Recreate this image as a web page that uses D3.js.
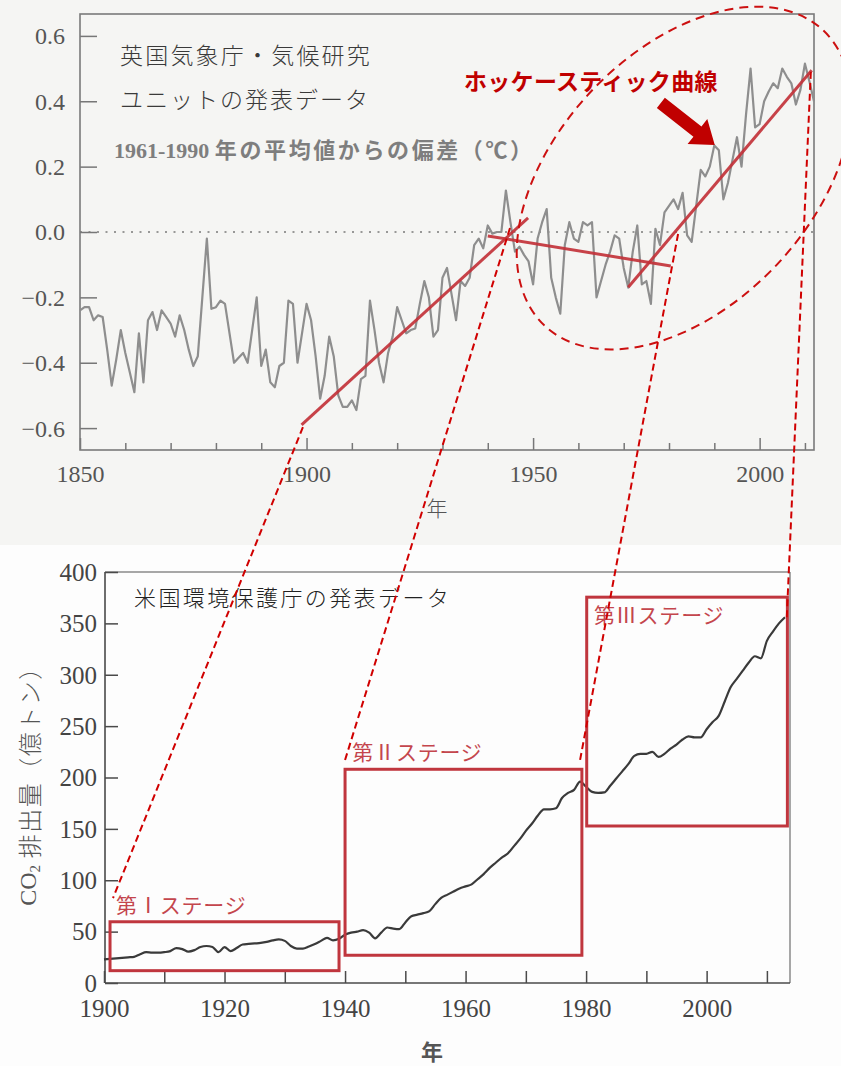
<!DOCTYPE html>
<html><head><meta charset="utf-8">
<script src="https://cdn.jsdelivr.net/npm/d3@7"></script>
<style>
html,body{margin:0;padding:0;background:#fbfbfa;}
svg{display:block;}
</style></head><body>
<script>
// ---------- Data: temperature anomaly (°C, vs 1961-1990), 1850..2012 ----------
const tempStartYear = 1850;
const tempValues = [
  -0.24,-0.23,-0.23,-0.27,-0.255,-0.26,-0.36,-0.47,-0.39,-0.30,
  -0.37,-0.43,-0.49,-0.31,-0.46,-0.27,-0.245,-0.30,-0.24,-0.26,
  -0.28,-0.32,-0.255,-0.30,-0.36,-0.41,-0.38,-0.20,-0.02,-0.235,
  -0.23,-0.21,-0.22,-0.31,-0.40,-0.385,-0.37,-0.40,-0.30,-0.20,
  -0.41,-0.36,-0.46,-0.475,-0.41,-0.40,-0.21,-0.22,-0.40,-0.31,
  -0.22,-0.27,-0.38,-0.51,-0.44,-0.32,-0.38,-0.50,-0.535,-0.535,
  -0.515,-0.545,-0.45,-0.44,-0.21,-0.30,-0.40,-0.46,-0.37,-0.32,
  -0.23,-0.27,-0.31,-0.30,-0.295,-0.22,-0.15,-0.20,-0.32,-0.30,
  -0.14,-0.11,-0.19,-0.27,-0.15,-0.165,-0.14,-0.04,-0.02,-0.05,
  0.02,-0.005,0.00,0.00,0.127,0.03,-0.06,-0.045,-0.07,-0.09,
  -0.16,-0.02,0.03,0.07,-0.14,-0.20,-0.25,-0.04,0.03,-0.02,
  -0.03,0.03,0.02,0.03,-0.20,-0.15,-0.10,-0.06,-0.01,-0.02,
  -0.11,-0.17,-0.06,0.02,-0.16,-0.15,-0.22,0.01,-0.04,0.06,
  0.08,0.10,0.07,0.12,-0.01,-0.03,0.08,0.19,0.17,0.20,
  0.265,0.25,0.10,0.15,0.22,0.29,0.20,0.36,0.50,0.32,
  0.33,0.40,0.43,0.455,0.44,0.50,0.475,0.455,0.39,0.435,
  0.515,0.46,0.40
];
const tempDomainX = [1850, 2012];
const tempDomainY = [-0.667, 0.667];
const tempYTicks = [0.6, 0.4, 0.2, 0.0, -0.2, -0.4, -0.6];
const tempYTickLabels = ["0.6", "0.4", "0.2", "0.0", "−0.2", "−0.4", "−0.6"];
const tempXMajorTicks = [1850, 1900, 1950, 2000];
const tempXMinorTicks = [1860,1870,1880,1890,1910,1920,1930,1940,1960,1970,1980,1990,2010];
// hockey-stick trend segments [year0, value0, year1, value1]
const trendX0 = [1898.9, 1940.0, 1971.0];
const trendY0 = [-0.59, -0.012, -0.169];
const trendX1 = [1948.9, 1980.4, 2011.5];
const trendY1 = [0.043, -0.104, 0.495];

// ---------- Data: CO2 emissions (億トン), 1900..2013 ----------
const co2StartYear = 1900;
const co2Values = [
  23,23.5,24,24.5,25,25.5,28,30,29.5,29.5,
  30,31,34,33,30.5,32,35,36,35,30,
  35,31,34,37.5,38,38.5,39,40,41.5,42.5,
  41,36,33.5,33.5,35.5,38,41,44,41.5,43,
  47,49,50,51.5,49,43.5,49,54,53,52.5,
  59,65,66.5,68,70,77,83,86,89,92,
  94,96,101,106,112,117,122,126,133,140,
  148,155,163,169,169,170,180,185,188,196,
  191,186,185,185.5,192,199,206,213,221,223,
  223,225,220,223,228,232,237,240,239,239,
  247,254,260,274,288,296,304,312,318,316,
  333,342,350,356
];
const co2DomainX = [1900, 2014];
const co2DomainY = [0, 400];
const co2YTicks = [0, 50, 100, 150, 200, 250, 300, 350, 400];
const co2XTicks = [1900,1910,1920,1930,1940,1950,1960,1970,1980,1990,2000,2010];
const co2XLabels = [1900, 1920, 1940, 1960, 1980, 2000];
// stage boxes
const stageLabels = ["第Ⅰステージ", "第Ⅱステージ", "第Ⅲステージ"];
const stageYear0 = [1901.0, 1940.0, 1980.1];
const stageYear1 = [1939.0, 1979.3, 2013.4];
const stageVal0 = [12, 27, 152.8];
const stageVal1 = [59.6, 208, 375.5];
const stageLabelYear = [1902.0, 1941.2, 1981.3];
const stageLabelVal = [76.8, 225.7, 359];
// dashed connectors: top chart (year, anomaly) -> bottom chart (year, emissions)
const connTopYear = [1899.2, 1944.9, 1982.0, 2011.3];
const connTopVal = [-0.597, 0.012, -0.006, 0.49];
const connBotYear = [1901.5, 1940.0, 1979.0, 2013.3];
const connBotVal = [82.7, 217, 217, 356];

// ---------- Layout ----------
const W = 841, H = 1066;
const svg = d3.select("body").append("svg").attr("width", W).attr("height", H);
const serif = "'Liberation Serif', 'Noto Sans CJK JP', serif";
const jp = "'Noto Sans CJK JP', sans-serif";

svg.append("rect").attr("x",0).attr("y",0).attr("width",W).attr("height",545).attr("fill","#f5f5f3");
svg.append("rect").attr("x",0).attr("y",545).attr("width",W).attr("height",H-545).attr("fill","#fdfdfd");

// ===== Top chart =====
const T = {l:80, r:814, t:14, b:450};
const xT = d3.scaleLinear(tempDomainX, [T.l, T.r]);
const yT = d3.scaleLinear(tempDomainY, [T.b, T.t]);
const gT = svg.append("g");

// zero line
gT.append("line").attr("x1", xT(tempDomainX[0])).attr("x2", xT(tempDomainX[1]))
  .attr("y1", yT(0)).attr("y2", yT(0))
  .attr("stroke", "#7a7a7a").attr("stroke-width", 1.6).attr("stroke-dasharray", "2,6.5");

// axes
const axT_y = d3.axisLeft(yT).tickValues(tempYTicks).tickSize(-17).tickPadding(15)
  .tickFormat((d,i) => tempYTickLabels[i]);
gT.append("g").attr("transform", `translate(${T.l},0)`).call(axT_y)
  .call(g => g.select(".domain").remove())
  .call(g => g.selectAll("line").attr("stroke","#777").attr("stroke-width",1.5))
  .call(g => g.selectAll("text").attr("fill","#555").attr("font-family",serif).attr("font-size",24)
         .attr("dy","0.33em"));

const axT_xMinor = d3.axisBottom(xT).tickValues(tempXMinorTicks).tickSize(-7).tickFormat("");
gT.append("g").attr("transform", `translate(0,${T.b})`).call(axT_xMinor)
  .call(g => g.select(".domain").remove())
  .call(g => g.selectAll("line").attr("stroke","#777").attr("stroke-width",1.5));
const axT_xMajor = d3.axisBottom(xT).tickValues(tempXMajorTicks).tickSize(-12).tickPadding(15)
  .tickFormat(d3.format("d"));
gT.append("g").attr("transform", `translate(0,${T.b})`).call(axT_xMajor)
  .call(g => g.select(".domain").remove())
  .call(g => g.selectAll("line").attr("stroke","#777").attr("stroke-width",1.5))
  .call(g => g.selectAll("text").attr("fill","#555").attr("font-family",serif).attr("font-size",24));

// frame
gT.append("rect").attr("x",T.l).attr("y",T.t).attr("width",T.r-T.l).attr("height",T.b-T.t)
  .attr("fill","none").attr("stroke","#7a7a7a").attr("stroke-width",1.6);

// data line
const tempData = tempValues.map((v,i) => ({year: tempStartYear + i, value: v}));
gT.append("path").datum(tempData)
  .attr("d", d3.line().x(d => xT(d.year)).y(d => yT(d.value)))
  .attr("fill","none").attr("stroke","#8e8e8e").attr("stroke-width",2.2).attr("stroke-linejoin","round");

// trend lines
gT.selectAll("line.trend").data(trendX0).join("line").attr("class","trend")
  .attr("x1",(d,i)=>xT(trendX0[i])).attr("y1",(d,i)=>yT(trendY0[i]))
  .attr("x2",(d,i)=>xT(trendX1[i])).attr("y2",(d,i)=>yT(trendY1[i]))
  .attr("stroke","#c2323a").attr("stroke-width",3).attr("stroke-opacity",0.92);

// texts
gT.append("text").attr("x",120).attr("y",54).attr("dominant-baseline","central")
  .attr("font-family",jp).attr("font-weight",300).attr("font-size",23).attr("letter-spacing",2.2)
  .attr("fill","#3a3a3a").text("英国気象庁・気候研究");
gT.append("text").attr("x",120).attr("y",98).attr("dominant-baseline","central")
  .attr("font-family",jp).attr("font-weight",300).attr("font-size",23).attr("letter-spacing",2.0)
  .attr("fill","#3a3a3a").text("ユニットの発表データ");
const sub = gT.append("text").attr("x",114).attr("y",150).attr("dominant-baseline","central")
  .attr("font-family",serif).attr("font-weight",700).attr("font-size",22)
  .attr("fill","#7e7e7e");
sub.append("tspan").text("1961-1990 ");
sub.append("tspan").attr("letter-spacing",2.6).text("年の平均値からの偏差（℃）");

// ellipse annotation
const ellCenter = {year: 1983.3, value: 0.165};
svg.append("ellipse")
  .attr("transform", `translate(${xT(ellCenter.year)},${yT(ellCenter.value)}) rotate(-46.6)`)
  .attr("rx",203).attr("ry",127)
  .attr("fill","none").attr("stroke","#cc1010").attr("stroke-width",2).attr("stroke-dasharray","9,6");

// hockey stick label + arrow
svg.append("text").attr("x",464).attr("y",80).attr("dominant-baseline","central")
  .attr("font-family",jp).attr("font-weight",700).attr("font-size",23).attr("letter-spacing",0.3)
  .attr("fill","#c00000").text("ホッケースティック曲線");
const arrowTail = {year: 1978.2, value: 0.395};
const arrowTip = {year: 1990.1, value: 0.266};
(function(){
  const tx = xT(arrowTail.year), ty = yT(arrowTail.value);
  const px = xT(arrowTip.year), py = yT(arrowTip.value);
  const len = Math.hypot(px-tx, py-ty), ux = (px-tx)/len, uy = (py-ty)/len;
  const nx = -uy, ny = ux, hw = 6.5, HW = 16, HL = 22;
  const bx = px - ux*HL, by = py - uy*HL;
  const pts = [[tx+nx*hw,ty+ny*hw],[bx+nx*hw,by+ny*hw],[bx+nx*HW,by+ny*HW],[px,py],
               [bx-nx*HW,by-ny*HW],[bx-nx*hw,by-ny*hw],[tx-nx*hw,ty-ny*hw]];
  svg.append("polygon").attr("points", pts.map(p=>p.join(",")).join(" ")).attr("fill","#c00000");
})();

// axis title top
svg.append("text").attr("x",437).attr("y",507).attr("text-anchor","middle").attr("dominant-baseline","central")
  .attr("font-family",jp).attr("font-weight",300).attr("font-size",21).attr("fill","#555").text("年");

// ===== Bottom chart =====
const B = {l:105, r:790, t:572, b:983};
const xC = d3.scaleLinear(co2DomainX, [104, 791]);
const yC = d3.scaleLinear(co2DomainY, [B.b, B.t]);
const gB = svg.append("g");

// frame (top/right gray, left/bottom darker)
gB.append("line").attr("x1",B.l).attr("x2",B.r).attr("y1",B.t).attr("y2",B.t).attr("stroke","#8a8a8a").attr("stroke-width",1.5);
gB.append("line").attr("x1",B.r).attr("x2",B.r).attr("y1",B.t).attr("y2",B.b).attr("stroke","#8a8a8a").attr("stroke-width",1.5);
gB.append("line").attr("x1",B.l).attr("x2",B.l).attr("y1",B.t).attr("y2",B.b).attr("stroke","#4a4a4a").attr("stroke-width",1.6);
gB.append("line").attr("x1",B.l).attr("x2",B.r).attr("y1",B.b).attr("y2",B.b).attr("stroke","#4a4a4a").attr("stroke-width",1.6);

const axC_y = d3.axisLeft(yC).tickValues(co2YTicks).tickSize(-13).tickPadding(8).tickFormat(d3.format("d"));
gB.append("g").attr("transform", `translate(${B.l},0)`).call(axC_y)
  .call(g => g.select(".domain").remove())
  .call(g => g.selectAll("line").attr("stroke","#4a4a4a").attr("stroke-width",1.5))
  .call(g => g.selectAll("text").attr("fill","#444").attr("font-family",serif).attr("font-size",25)
         .attr("dy","0.33em"));
const axC_x = d3.axisBottom(xC).tickValues(co2XTicks).tickSize(-12).tickPadding(16)
  .tickFormat(d => co2XLabels.includes(d) ? d3.format("d")(d) : "");
gB.append("g").attr("transform", `translate(0,${B.b})`).call(axC_x)
  .call(g => g.select(".domain").remove())
  .call(g => g.selectAll("line").attr("stroke","#4a4a4a").attr("stroke-width",1.5))
  .call(g => g.selectAll("text").attr("fill","#444").attr("font-family",serif).attr("font-size",25));

// y-axis title
const yTitle = svg.append("text").attr("transform","translate(28,780) rotate(-90)")
  .attr("text-anchor","middle").attr("dominant-baseline","central")
  .attr("font-family",serif).attr("font-size",24).attr("fill","#555");
yTitle.append("tspan").text("CO");
yTitle.append("tspan").attr("font-size",15).attr("dy",7).text("2");
yTitle.append("tspan").attr("dy",-7).attr("font-family",jp).attr("font-weight",300).attr("letter-spacing",1.5).text(" 排出量（億トン）");

// x-axis title bottom
svg.append("text").attr("x",432).attr("y",1050).attr("text-anchor","middle").attr("dominant-baseline","central")
  .attr("font-family",jp).attr("font-weight",700).attr("font-size",22).attr("fill","#555").text("年");

// chart caption
svg.append("text").attr("x",134).attr("y",596).attr("dominant-baseline","central")
  .attr("font-family",jp).attr("font-weight",300).attr("font-size",22).attr("letter-spacing",2.4)
  .attr("fill","#222").text("米国環境保護庁の発表データ");

// CO2 line
const co2Data = co2Values.map((v,i) => ({year: co2StartYear + i, value: v}));
gB.append("path").datum(co2Data)
  .attr("d", d3.line().curve(d3.curveMonotoneX).x(d => xC(d.year)).y(d => yC(d.value)))
  .attr("fill","none").attr("stroke","#3a3a3a").attr("stroke-width",2.2).attr("stroke-linejoin","round");

// stage boxes + labels
gB.selectAll("rect.stage").data(stageLabels).join("rect").attr("class","stage")
  .attr("x",(d,i)=>xC(stageYear0[i])).attr("y",(d,i)=>yC(stageVal1[i]))
  .attr("width",(d,i)=>xC(stageYear1[i])-xC(stageYear0[i]))
  .attr("height",(d,i)=>yC(stageVal0[i])-yC(stageVal1[i]))
  .attr("fill","none").attr("stroke","#c0363e").attr("stroke-width",3);
gB.selectAll("text.stage").data(stageLabels).join("text").attr("class","stage")
  .attr("x",(d,i)=>xC(stageLabelYear[i])).attr("y",(d,i)=>yC(stageLabelVal[i]))
  .attr("dominant-baseline","central")
  .attr("font-family",jp).attr("font-size",21).attr("letter-spacing",0.8).attr("fill","#c4464d").text(d=>d);

// dashed connectors
svg.selectAll("line.conn").data(connTopYear).join("line").attr("class","conn")
  .attr("x1",(d,i)=>xT(connTopYear[i])).attr("y1",(d,i)=>yT(connTopVal[i]))
  .attr("x2",(d,i)=>xC(connBotYear[i])).attr("y2",(d,i)=>yC(connBotVal[i]))
  .attr("stroke","#d00000").attr("stroke-width",2).attr("stroke-dasharray","7,4");
</script>
</body></html>
